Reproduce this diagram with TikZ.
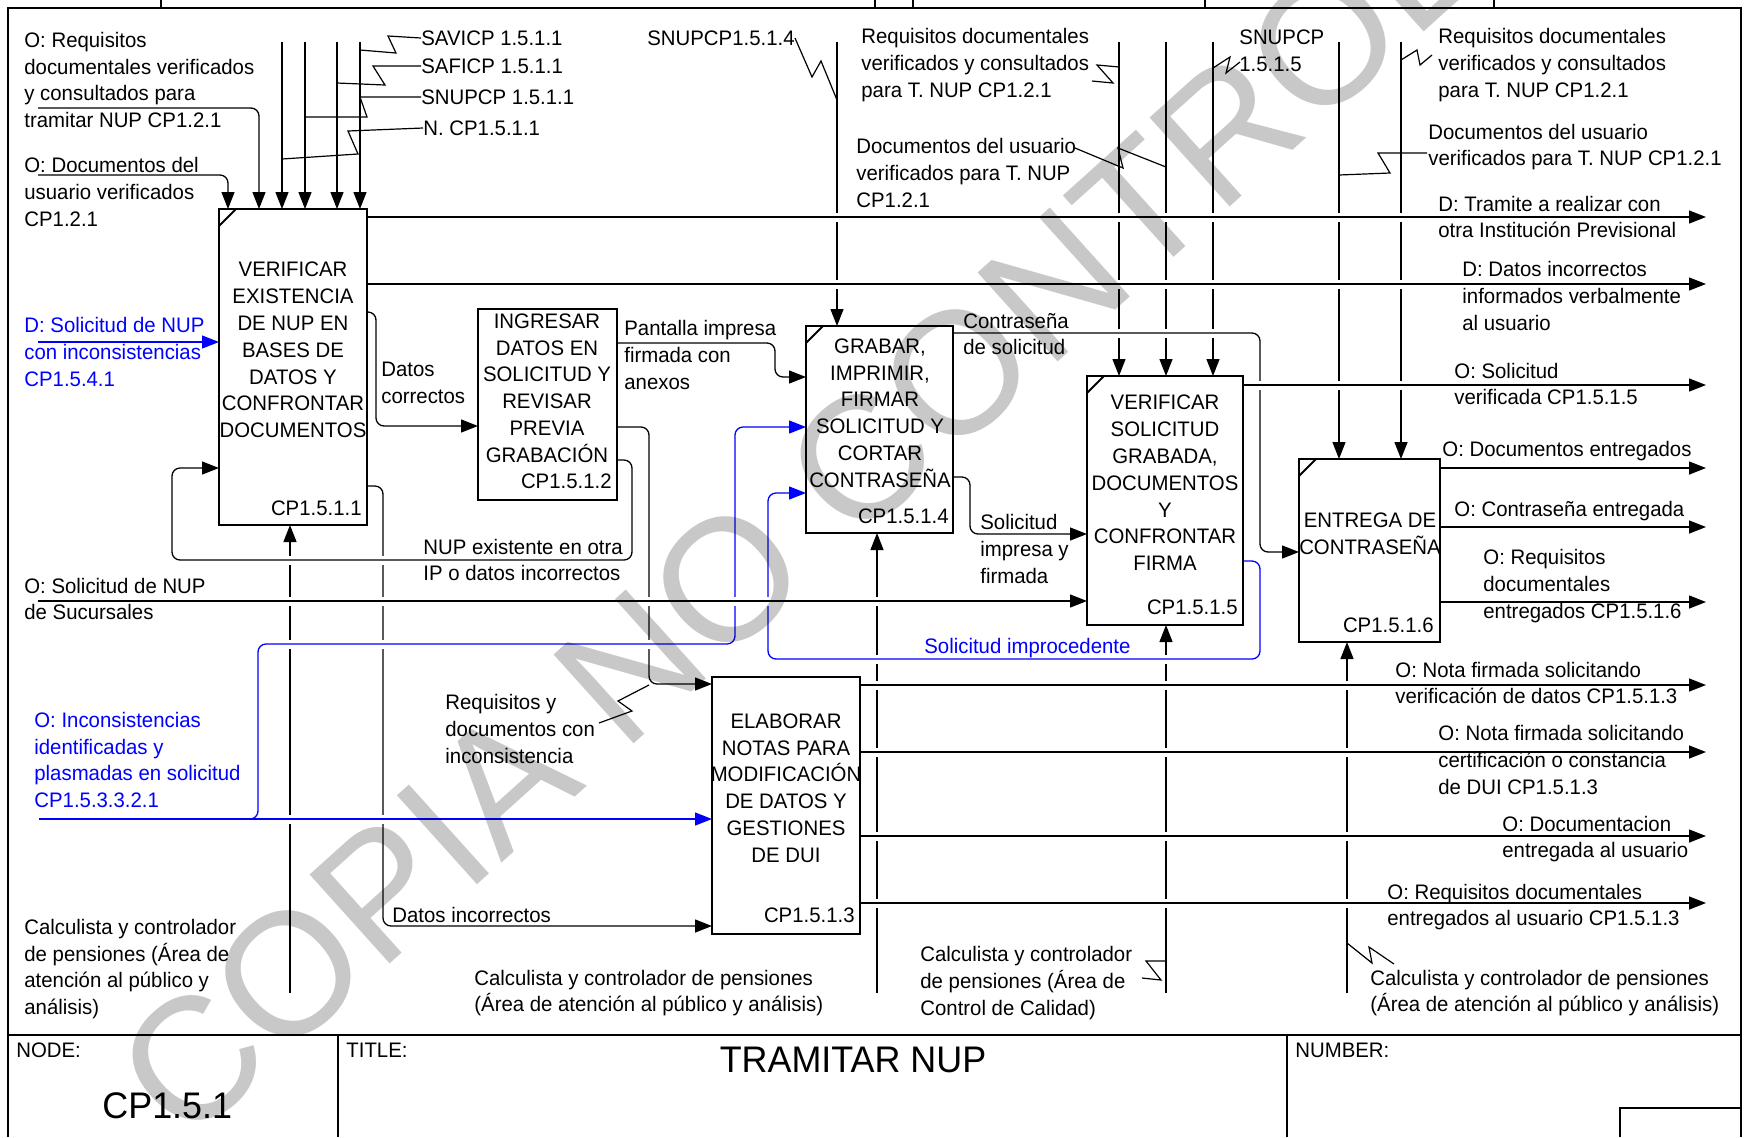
\documentclass[tikz,border=0pt]{standalone}
\usepackage{fontspec}
\setmainfont[FakeStretch=0.97]{Liberation Sans}
\newfontfamily\wmfont{Liberation Sans}
\usetikzlibrary{arrows.meta}
\definecolor{wm}{RGB}{200,200,200}
\definecolor{idblue}{RGB}{0,0,255}
\newcommand\lbfont{\fontsize{10.5}{13.4}\selectfont}
\begin{document}
\begin{tikzpicture}[x=0.5pt,y=-0.5pt,
 arr/.style={line width=0.65pt,-{Triangle[length=8.5pt,width=6.5pt]}},
 sq/.style={line width=0.6pt},
 gapw/.style={draw=white,line width=4.5pt},
 rc/.style={rounded corners=4pt},
 boxc/.style={inner sep=0pt,outer sep=0pt},
 boxln/.style={line width=1.3pt},
 frm/.style={line width=0.8pt},
 lbl/.style={inner sep=0pt,align=left,anchor=west,font=\lbfont},
 btx/.style={inner sep=0pt,align=center,font=\lbfont},
 num/.style={inner sep=0pt,anchor=east,font=\lbfont}]
\useasboundingbox (0,0) rectangle (1746,1137);
% box anchors
\node[boxc,minimum width=74pt,minimum height=158pt] (b1) at (293,367) {};
\node[boxc,minimum width=69.5pt,minimum height=95.5pt] (b2) at (547.5,404.5) {};
\node[boxc,minimum width=73.5pt,minimum height=103.5pt] (b3) at (879.5,429.5) {};
\node[boxc,minimum width=78pt,minimum height=124.5pt] (b4) at (1165,500.5) {};
\node[boxc,minimum width=70.5pt,minimum height=91.5pt] (b5) at (1369.5,550.5) {};
\node[boxc,minimum width=74pt,minimum height=128.5pt] (b6) at (786,805.5) {};
% frame
\draw[frm] (8,1137) -- (8,8) -- (1741,8) -- (1741,1137);
\draw[frm] (8,1035) -- (1741,1035);
\draw[frm] (338,1035) -- (338,1137);
\draw[frm] (1287,1035) -- (1287,1137);
\draw[frm] (1620,1137) -- (1620,1108) -- (1741,1108);
\foreach \x in {161,875,913,1205,1494} \draw[line width=0.6pt] (\x,0) -- (\x,8);
% controls
\draw[arr,rc] (38,175) -- (228,175) -- (228,175 |- b1.north);
\draw[arr,rc] (38,108) -- (259,108) -- (259,108 |- b1.north);
\foreach \x in {282,305,337,360} \draw[arr] (\x,42) -- (\x,42 |- b1.north);
\draw[arr] (837,42) -- (837,42 |- b3.north);
\foreach \x in {1119,1166,1213} \draw[arr] (\x,42) -- (\x,42 |- b4.north);
\foreach \x in {1339,1401} \draw[arr] (\x,42) -- (\x,42 |- b5.north);
% mechanisms
\draw[arr] (290,993) -- (290,993 |- b1.south);
\draw[arr] (877,993) -- (877,993 |- b3.south);
\draw[arr] (1166,993) -- (1166,993 |- b4.south);
\draw[arr] (1347,993) -- (1347,993 |- b5.south);
% internal connectors
\draw[arr,rc] (b1.east |- 0,312) -- (376,312) -- (376,426) -- (b2.west |- 0,426);
\draw[arr,rc] (b1.east |- 0,486) -- (383,486) -- (383,926) -- (b6.west |- 0,926);
\draw[arr,rc] (b2.east |- 0,427) -- (649,427) -- (649,684) -- (b6.west |- 0,684);
\draw[arr,rc] (b2.east |- 0,343) -- (775,343) -- (775,377) -- (b3.west |- 0,377);
\draw[arr,rc] (b3.east |- 0,477) -- (970,477) -- (970,534) -- (b4.west |- 0,534);
\draw[arr,idblue] (38,342) -- (b1.west |- 0,342);
% NUP existente
\draw[gapw] (180,560) -- (624,560);
\draw[arr,rc] (b2.east |- 0,460) -- (632,460) -- (632,560) -- (172,560) -- (172,468) -- (b1.west |- 0,468);
% contrasena
\draw[gapw] (960,333) -- (1252,333);
\draw[arr,rc] (b3.east |- 0,333) -- (1260,333) -- (1260,552) -- (b5.west |- 0,552);
% blue branch
\draw[gapw] (268,644) -- (727,644);
\draw[arr,rc,idblue] (240,819) -- (258,819) -- (258,644) -- (735,644) -- (735,427) -- (b3.west |- 0,427);
% improcedente
\draw[gapw] (776,659) -- (1252,659);
\draw[arr,rc,idblue] (b4.east |- 0,561) -- (1260,561) -- (1260,659) -- (768,659) -- (768,493) -- (b3.west |- 0,493);
% sucursales
\draw[gapw] (46,601) -- (1079,601);
\draw[arr] (38,601) -- (b4.west |- 0,601);
% outputs
\draw[gapw] (375,217) -- (1698,217); \draw[arr] (b1.east |- 0,217) -- (1706,217);
\draw[gapw] (375,284) -- (1698,284); \draw[arr] (b1.east |- 0,284) -- (1706,284);
\draw[gapw] (1251,385) -- (1698,385); \draw[arr] (b4.east |- 0,385) -- (1706,385);
\foreach \y in {468,527,602} \draw[arr] (b5.east |- 0,\y) -- (1706,\y);
\foreach \y in {685,752,836,903} {\draw[gapw] (868,\y) -- (1698,\y); \draw[arr] (b6.east |- 0,\y) -- (1706,\y);}
% blue main
\draw[gapw] (47,819) -- (245,819); \draw[gapw] (270,819) -- (704,819);
\draw[arr,idblue] (39,819) -- (b6.west |- 0,819);
% boxes
\foreach \b in {b1,b2,b3,b4,b5,b6} \draw[boxln] (\b.north west) rectangle (\b.south east);
\foreach \b in {b1,b3,b4,b5} \draw[line width=1pt] (\b.north west) ++(0,17) -- ++(17,-17);
% box texts
\node[btx] (t1) at (293,350) {VERIFICAR\\EXISTENCIA\\DE NUP EN\\BASES DE\\DATOS Y\\CONFRONTAR\\DOCUMENTOS};
\node[num] (n1) at (362,508) {CP1.5.1.1};
\node[btx] (t2) at (547,388) {INGRESAR\\DATOS EN\\SOLICITUD Y\\REVISAR\\PREVIA\\GRABACIÓN};
\node[num] (n2) at (612,481) {CP1.5.1.2};
\node[btx] (t3) at (880,413) {GRABAR,\\IMPRIMIR,\\FIRMAR\\SOLICITUD Y\\CORTAR\\CONTRASEÑA};
\node[num] (n3) at (949,516) {CP1.5.1.4};
\node[btx] (t4) at (1165,483) {VERIFICAR\\SOLICITUD\\GRABADA,\\DOCUMENTOS\\Y\\CONFRONTAR\\FIRMA};
\node[num] (n4) at (1238,607) {CP1.5.1.5};
\node[btx] (t5) at (1370,534) {ENTREGA DE\\CONTRASEÑA};
\node[num] (n5) at (1434,625) {CP1.5.1.6};
\node[btx] (t6) at (786,788) {ELABORAR\\NOTAS PARA\\MODIFICACIÓN\\DE DATOS Y\\GESTIONES\\DE DUI};
\node[num] (n6) at (855,915) {CP1.5.1.3};
% labels
\node[lbl] (la) at (24,80) {O: Requisitos\\documentales verificados\\y consultados para\\tramitar NUP CP1.2.1};
\node[lbl] (lb) at (24,192) {O: Documentos del\\usuario verificados\\CP1.2.1};
\node[lbl,text=idblue] (lc) at (24,352) {D: Solicitud de NUP\\con inconsistencias\\CP1.5.4.1};
\node[lbl] (ld) at (24,599) {O: Solicitud de NUP\\de Sucursales};
\node[lbl,text=idblue] (le) at (34,760) {O: Inconsistencias\\identificadas y\\plasmadas en solicitud\\CP1.5.3.3.2.1};
\node[lbl] (lf) at (24,969) {Calculista y controlador\\de pensiones (Área de\\atención al público y\\análisis)};
\node[lbl] (lg) at (421,38) {SAVICP 1.5.1.1};
\node[lbl] (lh) at (421,66) {SAFICP 1.5.1.1};
\node[lbl] (li) at (421,97) {SNUPCP 1.5.1.1};
\node[lbl] (lj) at (423,128) {N. CP1.5.1.1};
\node[lbl] (lk) at (647,38) {SNUPCP1.5.1.4};
\node[lbl] (ll) at (861,65) {Requisitos documentales\\verificados y consultados\\para T. NUP CP1.2.1};
\node[lbl] (lm) at (856,173) {Documentos del usuario\\verificados para T. NUP\\CP1.2.1};
\node[lbl] (ln) at (1239,51) {SNUPCP\\1.5.1.5};
\node[lbl] (lo) at (1438,65) {Requisitos documentales\\verificados y consultados\\para T. NUP CP1.2.1};
\node[lbl] (lp) at (1428,147) {Documentos del usuario\\verificados para T. NUP CP1.2.1};
\node[lbl] (lq) at (1438,217) {D: Tramite a realizar con\\otra Institución Previsional};
\node[lbl] (lr) at (1462,296) {D: Datos incorrectos\\informados verbalmente\\al usuario};
\node[lbl] (ls) at (1454,384) {O: Solicitud\\verificada CP1.5.1.5};
\node[lbl] (lt) at (1442,451) {O: Documentos entregados};
\node[lbl] (lu) at (1454,511) {O: Contraseña entregada};
\node[lbl] (lv) at (1483,586) {O: Requisitos\\documentales\\entregados CP1.5.1.6};
\node[lbl] (lw) at (1395,683) {O: Nota firmada solicitando\\verificación de datos CP1.5.1.3};
\node[lbl] (lx) at (1438,760) {O: Nota firmada solicitando\\certificación o constancia\\de DUI CP1.5.1.3};
\node[lbl] (ly) at (1502,839) {O: Documentacion\\entregada al usuario};
\node[lbl] (lz) at (1387,907) {O: Requisitos documentales\\entregados al usuario CP1.5.1.3};
\node[lbl] (m1) at (381,383) {Datos\\correctos};
\node[lbl] (m2) at (423,560) {NUP existente en otra\\IP o datos incorrectos};
\node[lbl] (m3) at (624,355) {Pantalla impresa\\firmada con\\anexos};
\node[lbl] (m4) at (963,334) {Contraseña\\de solicitud};
\node[lbl] (m5) at (980,549) {Solicitud\\impresa y\\firmada};
\node[lbl,text=idblue] (m6) at (924,648) {Solicitud improcedente};
\node[lbl] (m7) at (445,729) {Requisitos y\\documentos con\\inconsistencia};
\node[lbl] (m8) at (392,915) {Datos incorrectos};
\node[lbl] (m9) at (474,993) {Calculista y controlador de pensiones\\(Área de atención al público y análisis)};
\node[lbl] (m10) at (920,983) {Calculista y controlador\\de pensiones (Área de\\Control de Calidad)};
\node[lbl] (m11) at (1370,993) {Calculista y controlador de pensiones\\(Área de atención al público y análisis)};
% squiggles
\draw[sq] (lg.west) -- (388,36) -- (396,53) -- (360,50);
\draw[sq] (lh.west) -- (373,66) -- (385,85) -- (337,83);
\draw[sq] (li.west) -- (360,97) -- (367,117) -- (305,117);
\draw[sq] (lj.west) -- (348,131) -- (358,154) -- (282,159);
\draw[sq] (lk.east) -- (812,77) -- (821,61) -- (837,100);
\draw[sq] (1092,81) -- (1113,83) -- (1097,65) -- (1119,67);
\draw[sq] (1075,148) -- (1123,168) -- (1118,148) -- (1166,167);
\draw[sq] (1213,68) -- (1230,57) -- (1226,73) -- (1240,62);
\draw[sq] (1401,60) -- (1417,50) -- (1420,65) -- (1432,55);
\draw[sq] (1339,175) -- (1390,173) -- (1378,153) -- (1427,153);
\draw[sq] (599,723) -- (632,711) -- (618,701) -- (649,685);
\draw[sq] (1166,961) -- (1146,961) -- (1161,980) -- (1142,978);
\draw[sq] (1347,943) -- (1372,963) -- (1369,947) -- (1394,964);
% title block
\node[lbl] (nd) at (16,1050) {NODE:};
\node[inner sep=0pt,anchor=west,font=\fontsize{18.5}{20}\selectfont] (nn) at (102,1106) {CP1.5.1};
\node[lbl] (tt) at (346,1050) {TITLE:};
\node[inner sep=0pt,font=\fontsize{18.5}{20}\selectfont] (tn) at (853,1060) {TRAMITAR NUP};
\node[lbl] (nb) at (1295,1050) {NUMBER:};
% watermark
\begin{scope}[blend mode=multiply]
\node[inner sep=0pt,anchor=base west,rotate=42,text=wm,font=\wmfont\fontsize{87}{87}\selectfont] (wmk) at (185,1148) {COPIA NO CONTROLADA};
\end{scope}
\end{tikzpicture}
\end{document}
